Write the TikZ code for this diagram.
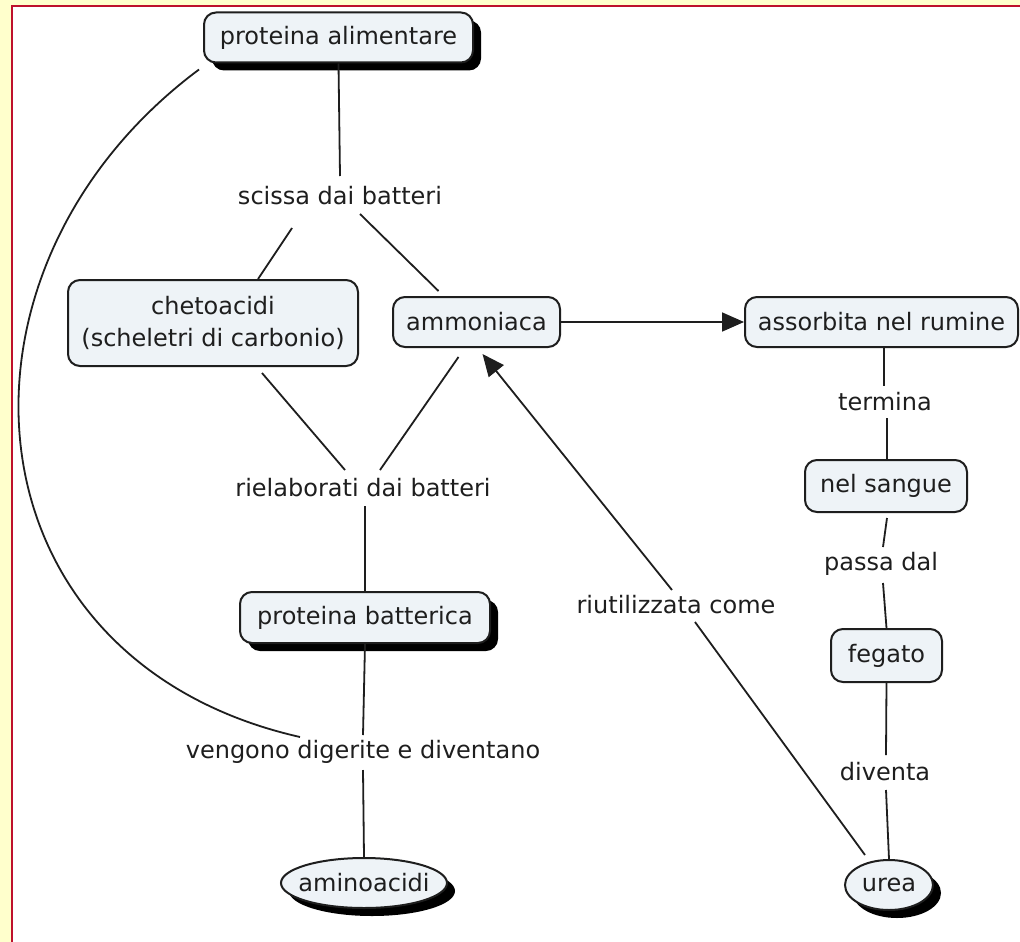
\documentclass[tikz,border=0pt]{standalone}
\usepackage{fontspec}
\setmainfont{DejaVu Sans}
\usetikzlibrary{arrows.meta,shapes.geometric,shadows,calc}
\definecolor{pagebg}{RGB}{255,255,204}
\definecolor{framered}{RGB}{190,16,44}
\definecolor{boxfill}{RGB}{238,243,247}
\definecolor{ink}{RGB}{30,30,30}
\begin{document}
\begin{tikzpicture}[x=1pt,y=-1pt,
  font=\fontsize{24}{32}\selectfont,
  concept/.style={draw=ink, line width=2pt, fill=boxfill, rounded corners=12pt,
    inner sep=0pt, text=ink, align=center},
  oval/.style={ellipse, draw=ink, line width=2pt, fill=boxfill, inner ysep=0pt, text=ink},
  shade/.style={drop shadow={shadow xshift=8pt, shadow yshift=-8pt, fill=black, opacity=1}},
  lbl/.style={text=ink, inner sep=2pt},
  link/.style={draw=ink, line width=1.8pt},
  tip/.style={-{Triangle[length=22pt,width=19pt]}}
]
% page frame
\useasboundingbox (0,0) rectangle (1020,942);
\fill[pagebg] (0,0) rectangle (1020,942);
\fill[white] (12,6) rectangle (1020,942);
\draw[framered, line width=2.5pt] (12,942) -- (12,6) -- (1020,6);

% concepts
\node[concept, shade, minimum width=269pt, minimum height=50pt] (palim) at (338.5,37.5) {proteina alimentare};
\node[concept, minimum width=290pt, minimum height=86pt] (chet) at (213,323) {chetoacidi\\(scheletri di carbonio)};
\node[concept, minimum width=167pt, minimum height=50pt] (amm) at (476.5,322) {ammoniaca};
\node[concept, minimum width=273pt, minimum height=50pt] (assorb) at (881.5,322) {assorbita nel rumine};
\node[concept, minimum width=162pt, minimum height=52pt] (sangue) at (886,486) {nel sangue};
\node[concept, minimum width=111pt, minimum height=53pt] (fegato) at (886.5,655.5) {fegato};
\node[concept, shade, minimum width=250pt, minimum height=51pt] (pbatt) at (365,617.5) {proteina batterica};
\node[oval, shade, minimum width=166pt, minimum height=50pt, inner xsep=-8pt] (amino) at (364,883) {aminoacidi};
\node[oval, shade, minimum width=88pt, minimum height=50pt, inner xsep=0pt] (urea) at (889,885) {urea};

% linking phrases
\node[lbl] (scissa) at (340,196) {scissa dai batteri};
\node[lbl] (rielab) at (363,488) {rielaborati dai batteri};
\node[lbl] (vdig) at (363,752) {vengono digerite e diventano};
\node[lbl] (termina) at (885,402) {termina};
\node[lbl] (passa) at (881,564) {passa dal};
\node[lbl] (diventa) at (885,772) {diventa};
\node[lbl] (riutil) at (676,605) {riutilizzata come};

% connectors
\draw[link] (palim.south) -- ($(scissa)+(0,-20)$);
\draw[link] ($(scissa)+(-48,32)$) -- ($(chet.north)+(45,0)$);
\draw[link] ($(scissa)+(20,18)$) -- ($(amm.north)+(-38,-5)$);
\draw[link] ($(chet.south)+(49,6)$) -- ($(rielab)+(-18,-18)$);
\draw[link] ($(amm.south)+(-18,9)$) -- ($(rielab)+(17,-18)$);
\draw[link] ($(rielab)+(2,18)$) -- (pbatt.north);
\draw[link] (pbatt.south) -- ($(vdig)+(0,-17)$);
\draw[link] ($(vdig)+(0,18)$) -- (amino.north);
\draw[link] ($(palim.south west)+(-4,6)$) .. controls (-70,270) and (-40,660) .. ($(vdig)+(-63,-15)$);
\draw[link, tip] (amm.east) -- (assorb.west);
\draw[link] ($(assorb.south)+(2.5,0)$) -- ($(termina)+(-1,-16)$);
\draw[link] ($(termina)+(2,16)$) -- ($(sangue.north)+(1,0)$);
\draw[link] ($(sangue.south)+(1,5)$) -- ($(passa)+(2,-17)$);
\draw[link] ($(passa)+(2,19)$) -- (fegato.north);
\draw[link] (fegato.south) -- ($(diventa)+(1,-17)$);
\draw[link] ($(diventa)+(1,18)$) -- (urea.north);
\draw[link] ($(urea)+(-24,-30)$) -- ($(riutil)+(19,17)$);
\draw[link, tip] ($(riutil)+(-4,-15)$) -- ($(amm.south)+(6,6)$);
\end{tikzpicture}
\end{document}
